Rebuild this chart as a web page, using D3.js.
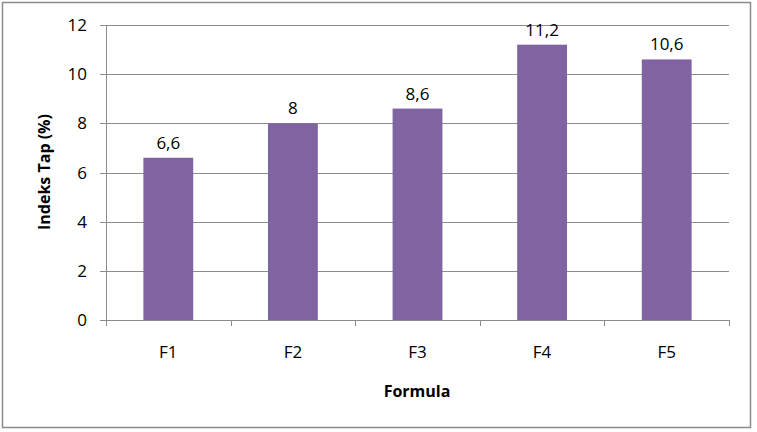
<!DOCTYPE html>
<html>
<head>
<meta charset="utf-8">
<script src="https://cdn.jsdelivr.net/npm/d3@7"></script>
<style>
  body { margin: 0; background: #fff; }
  text { font-family: "Open Sans", "Liberation Sans", sans-serif; }
</style>
</head>
<body>
<div id="chart"></div>
<script>
// chart data
const categories = ['F1', 'F2', 'F3', 'F4', 'F5'];
const values = [6.6, 8, 8.6, 11.2, 10.6];
const yTicks = [0, 2, 4, 6, 8, 10, 12];

const width = 757, height = 432;
const margin = { top: 25, right: 28, bottom: 112, left: 106 };
const plotW = width - margin.left - margin.right;
const plotH = height - margin.top - margin.bottom;

const svg = d3.select('#chart').append('svg')
    .attr('width', width)
    .attr('height', height);

// outer chart border
svg.append('rect')
    .attr('x', 2.5).attr('y', 2.5)
    .attr('width', 748).attr('height', 425)
    .attr('fill', '#fff')
    .attr('stroke', '#8c8c8c')
    .attr('stroke-width', 1.5);

const g = svg.append('g').attr('transform', `translate(${margin.left},${margin.top})`);

const x = d3.scaleBand().domain(categories).range([0, plotW]).paddingInner(0.6).paddingOuter(0.3);
const xOuter = d3.scaleBand().domain(categories).range([0, plotW]);
const y = d3.scaleLinear().domain([0, 12]).range([plotH, 0]);

// horizontal gridlines with stubs to the left
g.selectAll('.grid')
    .data(yTicks)
    .enter()
    .append('line')
    .attr('x1', -6)
    .attr('x2', plotW)
    .attr('y1', (d) => Math.round(y(d)) + 0.5)
    .attr('y2', (d) => Math.round(y(d)) + 0.5)
    .attr('stroke', '#8c8c8c')
    .attr('stroke-width', 1);

// y axis line
g.append('line')
    .attr('x1', 0.5).attr('x2', 0.5)
    .attr('y1', 0).attr('y2', plotH)
    .attr('stroke', '#8c8c8c');

// y tick labels
g.selectAll('.ylab')
    .data(yTicks)
    .enter()
    .append('text')
    .attr('x', -19)
    .attr('y', (d) => y(d))
    .attr('dy', '0.36em')
    .attr('text-anchor', 'end')
    .attr('font-size', 17)
    .text((d) => d);

// x category ticks at band boundaries
g.selectAll('.xtick')
    .data(d3.range(categories.length + 1))
    .enter()
    .append('line')
    .attr('x1', (i) => Math.round(i * xOuter.step()) + 0.5)
    .attr('x2', (i) => Math.round(i * xOuter.step()) + 0.5)
    .attr('y1', plotH)
    .attr('y2', plotH + 6)
    .attr('stroke', '#8c8c8c');

// bars
g.selectAll('.bar')
    .data(values)
    .enter()
    .append('rect')
    .attr('x', (d, i) => x(categories[i]))
    .attr('width', x.bandwidth())
    .attr('y', (d) => y(d))
    .attr('height', (d) => plotH - y(d))
    .attr('fill', '#8064A2');

// value labels
g.selectAll('.vlab')
    .data(values)
    .enter()
    .append('text')
    .attr('x', (d, i) => x(categories[i]) + x.bandwidth() / 2)
    .attr('y', (d) => y(d) - 9)
    .attr('text-anchor', 'middle')
    .attr('font-size', 17)
    .text((d) => String(d).replace('.', ','));

// category labels
g.selectAll('.xlab')
    .data(categories)
    .enter()
    .append('text')
    .attr('x', (d) => x(d) + x.bandwidth() / 2)
    .attr('y', plotH + 38)
    .attr('text-anchor', 'middle')
    .attr('font-size', 17)
    .text((d) => d);

// axis titles
svg.append('text')
    .attr('x', 417)
    .attr('y', 397)
    .attr('text-anchor', 'middle')
    .attr('font-size', 16)
    .attr('font-weight', 'bold')
    .text('Formula');

svg.append('text')
    .attr('transform', 'translate(50,172) rotate(-90)')
    .attr('text-anchor', 'middle')
    .attr('font-size', 16)
    .attr('font-weight', 'bold')
    .text('Indeks Tap (%)');
</script>
</body>
</html>
